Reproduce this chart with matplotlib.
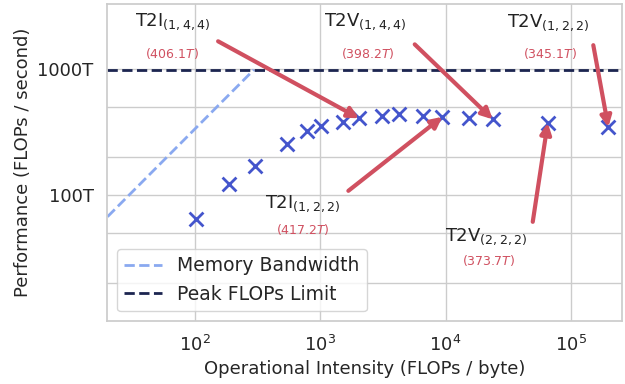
import numpy as np
import matplotlib
matplotlib.use("Agg")
import matplotlib.pyplot as plt
import seaborn as sns

# operational intensity (FLOPs/byte) and measured throughput (TFLOPs)
intensity = [101, 187, 301, 540, 779, 1007, 1510, 2038, 3093, 4248,
             6560, 9415, 15460, 23760, 65300, 198700]
tflops = [64.5, 122, 171, 252, 322, 353, 382, 406.1, 424, 437,
          424, 417.2, 406, 398.2, 373.7, 345.1]

peak_tflops = 989
bandwidth = 3.35  # TB/s

# annotated configs: index into the arrays above
ann_names = ["T2I", "T2V", "T2V", "T2I", "T2V"]
ann_dims = ["(1,4,4)", "(1,4,4)", "(1,2,2)", "(1,2,2)", "(2,2,2)"]
ann_idx = [7, 13, 15, 11, 14]
# (arrow start, label, value) offsets in pixels from the point
ann_offsets = [
    ((-141, 77), (-186, 97), (-187, 65)),
    ((-78, 75), (-127, 98), (-125, 66)),
    ((-15, 82), (-60, 104), (-58, 74)),
    ((-94, -74), (-140, -87), (-140, -113)),
    ((-15, -99), (-61, -114), (-59, -138)),
]

sns.set_theme(style="whitegrid")
plt.rcParams['font.family'] = ['DejaVu Sans']

fig, ax = plt.subplots(figsize=(6.25, 3.84), dpi=100)

xlim = (20, 2.55e5)
ridge = peak_tflops / bandwidth
xm = np.array([xlim[0], ridge])
ax.plot(xm, xm * bandwidth, ls='--', lw=2, color='#8aa9f0', label='Memory Bandwidth')
ax.axhline(peak_tflops, ls='--', lw=2, color='#1c2550', label='Peak FLOPs Limit')
ax.scatter(intensity, tflops, marker='x', s=100, linewidths=2, color='#4455cc', zorder=3)

red = '#d05060'
for name, dims, i, offs in zip(ann_names, ann_dims, ann_idx, ann_offsets):
    px, py = intensity[i], tflops[i]
    ax.annotate('', xy=(px, py), xytext=offs[0], textcoords='offset pixels',
                arrowprops=dict(arrowstyle='-|>', lw=3, color=red,
                                mutation_scale=16, shrinkA=0, shrinkB=0),
                zorder=4)
    ax.annotate(name + r'$_{' + dims + '}$', xy=(px, py), xytext=offs[1],
                textcoords='offset pixels', ha='center', va='center',
                fontsize=13, color='#222222')
    ax.annotate('(' + f'{tflops[i]:.1f}' + r'$T$)', xy=(px, py), xytext=offs[2],
                textcoords='offset pixels', ha='center', va='center',
                fontsize=9, color=red)

ax.set_xscale('log')
ax.set_yscale('log')
ax.set_xlim(*xlim)
ax.set_ylim(10, 3300)
ax.set_xticks([1e2, 1e3, 1e4, 1e5])
ax.set_yticks([20, 50, 100, 200, 500, 1000])
ax.set_yticklabels(['', '', '100T', '', '', '1000T'])
ax.minorticks_off()
ax.tick_params(labelsize=13, pad=4)
ax.set_xlabel('Operational Intensity (FLOPs / byte)', fontsize=13)
ax.set_ylabel('Performance (FLOPs / second)', fontsize=13)
ax.legend(loc='lower left', fontsize=13.5, handlelength=2.0)

fig.subplots_adjust(left=0.172, right=0.995, top=0.99, bottom=0.165)
fig.savefig('out.png', dpi=100)
